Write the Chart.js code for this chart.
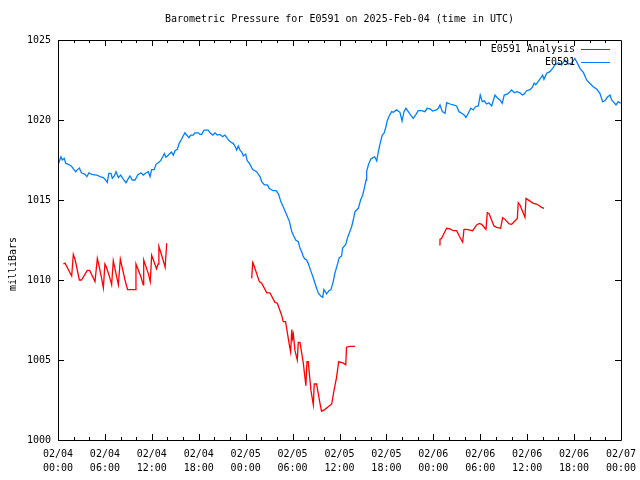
<!DOCTYPE html>
<html>
<head>
<meta charset="utf-8">
<script src="https://cdn.jsdelivr.net/npm/chart.js@4.4.1/dist/chart.umd.min.js"></script>
<style>
    html, body { margin: 0; padding: 0; background: #fff; }
    #wrap { width: 640px; height: 480px; }
</style>
</head>
<body>
<div id="wrap"><canvas id="pressureChart" width="640" height="480"></canvas></div>
<script>
// hours since 02/04 00:00 UTC, pressure in millibars
const obsHours = [0.0, 0.13, 0.38, 0.55, 0.8, 0.98, 1.32, 1.75, 1.96, 2.26, 2.5, 2.73, 3.0, 3.45, 3.7, 3.96, 4.3, 4.95, 5.37, 5.8,
    6.0, 6.3, 6.5, 6.78, 6.95, 7.2, 7.42, 7.72, 8.0, 8.35, 8.7, 9.0, 9.2, 9.5, 9.85, 10.2, 10.6, 10.9, 11.2, 11.55,
    11.77, 11.98, 12.3, 12.53, 12.83, 13.13, 13.4, 13.6, 13.8, 14.1, 14.5, 14.75, 14.96, 15.26, 15.5, 15.8, 16.0, 16.24, 16.45, 16.75,
    16.97, 17.3, 17.5, 17.94, 18.15, 18.37, 18.67, 19.2, 19.5, 19.8, 20.08, 20.37, 20.7, 21.06, 21.35, 21.65, 21.9, 22.2, 22.4, 22.63,
    22.85, 23.06, 23.27, 23.5, 23.7, 24.0, 24.2, 24.46, 24.9, 25.4, 25.83, 26.05, 26.4, 26.8, 27.0, 27.5, 27.9, 28.2, 28.5, 28.8,
    29.25, 29.6, 29.9, 30.1, 30.4, 30.73, 30.95, 31.16, 31.37, 31.6, 31.8, 32.0, 32.3, 32.57, 32.86, 33.07, 33.3, 33.6, 33.85, 34.0,
    34.36, 34.65, 34.9, 35.2, 35.4, 35.77, 35.97, 36.27, 36.4, 36.8, 37.0, 37.55, 37.76, 37.98, 38.4, 38.7, 38.96, 39.17, 39.4, 39.47,
    39.7, 40.0, 40.3, 40.5, 40.76, 40.96, 41.2, 41.47, 41.7, 41.94, 42.1, 42.37, 42.67, 42.88, 43.3, 43.73, 44.0, 44.25, 44.5, 44.8,
    45.1, 45.43, 45.78, 46.07, 46.5, 46.93, 47.2, 47.57, 47.9, 48.4, 48.64, 48.85, 49.15, 49.5, 49.7, 50.13, 50.55, 50.98, 51.28, 51.63,
    51.96, 52.17, 52.47, 52.8, 53.1, 53.4, 53.75, 54.0, 54.26, 54.5, 54.8, 55.1, 55.46, 55.88, 56.23, 56.52, 56.8, 57.07, 57.5, 57.8,
    58.0, 58.35, 58.65, 59.08, 59.38, 59.63, 59.93, 60.36, 60.65, 60.9, 61.1, 61.4, 61.7, 61.98, 62.15, 62.5, 62.9, 63.26, 63.55, 64.0,
    64.4, 64.83, 65.25, 65.7, 66.1, 66.33, 66.75, 67.2, 67.6, 68.0, 68.45, 68.9, 69.3, 69.65, 69.95, 70.24, 70.6, 70.8, 71.0, 71.36,
    71.65, 71.95];
const obsValues = [1017.5, 1017.36, 1017.7, 1017.5, 1017.6, 1017.3, 1017.23, 1017.1, 1016.94, 1016.77, 1016.9, 1017.0, 1016.7, 1016.6, 1016.46, 1016.7, 1016.6, 1016.56, 1016.46, 1016.4,
    1016.3, 1016.1, 1016.67, 1016.67, 1016.35, 1016.5, 1016.77, 1016.4, 1016.56, 1016.3, 1016.08, 1016.35, 1016.5, 1016.25, 1016.25, 1016.56, 1016.7, 1016.56, 1016.67, 1016.77,
    1016.46, 1016.9, 1016.9, 1017.23, 1017.33, 1017.46, 1017.7, 1017.9, 1017.67, 1017.8, 1018.0, 1017.8, 1018.08, 1018.17, 1018.54, 1018.8, 1019.0, 1019.2, 1019.06, 1018.9,
    1019.06, 1019.06, 1019.2, 1019.2, 1019.1, 1019.1, 1019.37, 1019.37, 1019.17, 1019.06, 1019.2, 1019.06, 1019.1, 1018.96, 1019.06, 1018.85, 1018.7, 1018.58, 1018.54, 1018.37,
    1018.12, 1018.37, 1018.12, 1018.0, 1017.75, 1017.87, 1017.46, 1017.3, 1016.9, 1016.77, 1016.46, 1016.15, 1015.94, 1015.94, 1015.73, 1015.58, 1015.58, 1015.37, 1014.9, 1014.58,
    1014.06, 1013.65, 1013.02, 1012.8, 1012.5, 1012.4, 1011.98, 1011.77, 1011.46, 1011.3, 1011.25, 1011.04, 1010.6, 1010.25, 1009.8, 1009.48, 1009.17, 1009.0, 1008.92, 1009.4,
    1009.13, 1009.33, 1009.4, 1009.9, 1010.4, 1011.04, 1011.4, 1011.5, 1012.0, 1012.23, 1012.6, 1013.33, 1013.75, 1014.27, 1014.48, 1015.0, 1015.3, 1015.73, 1016.25, 1016.77,
    1017.2, 1017.56, 1017.65, 1017.7, 1017.44, 1018.0, 1018.54, 1019.06, 1019.17, 1019.58, 1019.94, 1020.27, 1020.52, 1020.48, 1020.63, 1020.48, 1019.94, 1020.52, 1020.73, 1020.52,
    1020.3, 1020.1, 1020.35, 1020.58, 1020.58, 1020.52, 1020.73, 1020.7, 1020.56, 1020.63, 1020.73, 1020.94, 1020.52, 1020.42, 1021.08, 1021.0, 1020.94, 1020.88, 1020.52, 1020.42,
    1020.3, 1020.15, 1020.42, 1020.73, 1020.63, 1020.83, 1020.88, 1021.56, 1021.15, 1021.2, 1021.0, 1021.08, 1020.88, 1021.56, 1021.36, 1021.25, 1021.04, 1021.56, 1021.63, 1021.77,
    1021.88, 1021.7, 1021.77, 1021.7, 1021.56, 1021.63, 1021.83, 1021.9, 1022.04, 1022.3, 1022.2, 1022.4, 1022.6, 1022.8, 1022.54, 1022.92, 1023.02, 1023.23, 1023.44, 1023.58,
    1023.44, 1023.75, 1023.5, 1023.55, 1023.85, 1023.64, 1023.23, 1022.96, 1022.5, 1022.3, 1022.08, 1021.92, 1021.67, 1021.15, 1021.2, 1021.42, 1021.56, 1021.25, 1021.15, 1020.94,
    1021.15, 1021.04];

// analysis runs, null marks a gap between runs
const anaHours = [0.68, 0.9, 1.75, 1.96, 2.2, 2.73, 3.0, 3.75, 4.05, 4.73, 5.03, 5.2, 5.58, 5.8, 6.0, 6.2, 6.65, 6.86, 7.07, 7.72,
    7.97, 8.57, 8.9, 9.85, 9.97, 10.6, 10.9, 10.96, 11.55, 11.8, 11.98, 12.6, 12.8, 12.9, 13.26, 13.7, 13.9,
    19.0,
    24.77, 24.9, 25.0, 25.75, 26.05, 26.7, 27.1, 27.75, 28.05, 28.6, 28.8, 29.1, 29.6, 29.75, 29.9, 30.0, 30.1, 30.3, 30.6, 30.73,
    30.95, 31.37, 31.7, 31.84, 32.0, 32.35, 32.65, 32.77, 33.07, 33.5, 33.7, 34.1, 34.6, 35.0, 35.3, 35.6, 35.9, 36.5, 36.8, 36.9,
    37.3, 37.98,
    43.0,
    48.76, 48.85, 49.06, 49.7, 50.13, 50.55, 50.98, 51.4, 51.75, 51.92, 52.26, 53.03, 53.54, 53.87, 54.18, 54.73, 54.9, 55.15, 55.75, 56.1,
    56.6, 56.87, 57.16, 57.7, 58.02, 58.74, 58.86, 59.08, 59.72, 59.85, 60.27, 60.78, 61.2, 61.85, 62.15];
const anaValues = [1011.0, 1011.05, 1010.25, 1011.6, 1011.25, 1010.0, 1010.0, 1010.6, 1010.6, 1009.9, 1011.35, 1011.0, 1010.1, 1009.5, 1011.0, 1010.8, 1010.1, 1009.7, 1011.2, 1009.7,
    1011.3, 1010.0, 1009.4, 1009.4, 1011.0, 1010.2, 1009.7, 1011.25, 1010.4, 1009.9, 1011.55, 1010.7, 1011.0, 1012.1, 1011.55, 1010.8, 1012.3,
    null,
    1010.1, 1011.1, 1011.0, 1009.9, 1009.8, 1009.2, 1009.2, 1008.6, 1008.55, 1007.8, 1007.4, 1007.4, 1005.9, 1005.5, 1006.9, 1006.35, 1006.6, 1005.6, 1005.0, 1006.1,
    1006.1, 1004.8, 1003.4, 1004.9, 1004.9, 1003.1, 1002.2, 1003.5, 1003.5, 1002.3, 1001.8, 1001.9, 1002.1, 1002.25, 1003.1, 1003.85, 1004.9, 1004.8, 1004.7, 1005.8,
    1005.85, 1005.85,
    null,
    1012.19, 1012.54, 1012.6, 1013.23, 1013.19, 1013.08, 1013.08, 1012.67, 1012.36, 1013.17, 1013.17, 1013.08, 1013.44, 1013.54, 1013.48, 1013.17, 1014.21, 1014.13, 1013.38, 1013.29,
    1013.23, 1013.9, 1013.79, 1013.5, 1013.48, 1013.85, 1014.83, 1014.69, 1013.92, 1015.1, 1014.96, 1014.79, 1014.75, 1014.54, 1014.48];

const yTicks = [1000, 1005, 1010, 1015, 1020, 1025];
const dayLabels = ['02/04', '02/05', '02/06', '02/07'];

const FONT = '"DejaVu Sans Mono", "Liberation Mono", monospace';

function toPoints(xs, ys) {
    return xs.map(function(x, i) { return { x: x, y: ys[i] }; });
}

function timeLabel(h) {
    const day = dayLabels[Math.floor(h / 24)];
    const hr = h % 24;
    return [day, (hr < 10 ? '0' : '') + hr + ':00'];
}

// frame, inward ticks, title, y label and legend in gnuplot style
const gnuplotFrame = {
    id: 'gnuplotFrame',
    afterDraw: function(chart) {
        const ctx = chart.ctx;
        const a = chart.chartArea;
        const xs = chart.scales.x;
        const ys = chart.scales.y;
        ctx.save();
        ctx.strokeStyle = '#000';
        ctx.lineWidth = 1;
        ctx.beginPath();
        ctx.rect(Math.round(a.left) + 0.5, Math.round(a.top) + 0.5,
                 Math.round(a.right - a.left), Math.round(a.bottom - a.top));
        // x ticks every 2 hours, longer every 6
        for (let h = 2; h < 72; h += 2) {
            const px = Math.round(xs.getPixelForValue(h)) + 0.5;
            const len = (h % 6 === 0) ? 6 : 3;
            ctx.moveTo(px, a.bottom); ctx.lineTo(px, a.bottom - len);
            ctx.moveTo(px, a.top); ctx.lineTo(px, a.top + len);
        }
        yTicks.forEach(function(v) {
            const py = Math.round(ys.getPixelForValue(v)) + 0.5;
            ctx.moveTo(a.left, py); ctx.lineTo(a.left + 6, py);
            ctx.moveTo(a.right, py); ctx.lineTo(a.right - 6, py);
        });
        ctx.stroke();

        ctx.fillStyle = '#000';
        ctx.font = '10px ' + FONT;
        ctx.textAlign = 'center';
        ctx.textBaseline = 'middle';
        ctx.fillText('Barometric Pressure for E0591 on 2025-Feb-04 (time in UTC)', (a.left + a.right) / 2, 19);

        ctx.save();
        ctx.translate(13, 264);
        ctx.rotate(-Math.PI / 2);
        ctx.fillText('milliBars', 0, 0);
        ctx.restore();

        // legend
        chart.data.datasets.forEach(function(ds, i) {
            const ly = 49 + i * 13;
            ctx.textAlign = 'right';
            ctx.fillStyle = '#000';
            ctx.fillText(ds.label, 575, ly);
            ctx.strokeStyle = ds.borderColor;
            ctx.beginPath();
            ctx.moveTo(581, ly + 0.5);
            ctx.lineTo(610, ly + 0.5);
            ctx.stroke();
        });
        ctx.restore();
    }
};

const ctx = document.getElementById('pressureChart').getContext('2d');
const pressureChart = new Chart(ctx, {
    type: 'line',
    data: {
        datasets: [{
            label: 'E0591 Analysis',
            data: toPoints(anaHours, anaValues),
            borderColor: '#ff0000',
            borderWidth: 1.3,
            pointRadius: 0,
            tension: 0,
            spanGaps: false
        }, {
            label: 'E0591',
            data: toPoints(obsHours, obsValues),
            borderColor: '#0080ff',
            borderWidth: 1.3,
            pointRadius: 0,
            tension: 0
        }]
    },
    options: {
        responsive: false,
        animation: false,
        devicePixelRatio: 1,
        layout: { padding: { top: 40, right: 19, left: 0, bottom: 0 } },
        plugins: {
            legend: { display: false },
            title: { display: false },
            tooltip: { enabled: false }
        },
        scales: {
            x: {
                type: 'linear',
                min: 0,
                max: 72,
                grid: { display: false },
                border: { display: false },
                afterFit: function(s) { s.height = 40; },
                afterBuildTicks: function(s) {
                    s.ticks = [];
                    for (let h = 0; h <= 72; h += 6) s.ticks.push({ value: h });
                },
                ticks: {
                    autoSkip: false,
                    maxRotation: 0,
                    padding: -1,
                    color: '#000',
                    font: { family: FONT, size: 10, lineHeight: 1.4 },
                    callback: function(v) { return timeLabel(v); }
                }
            },
            y: {
                min: 1000,
                max: 1025,
                grid: { display: false },
                border: { display: false },
                afterFit: function(s) { s.width = 58; },
                afterBuildTicks: function(s) {
                    s.ticks = yTicks.map(function(v) { return { value: v }; });
                },
                ticks: {
                    padding: -1,
                    color: '#000',
                    font: { family: FONT, size: 10 },
                    callback: function(v) { return String(v); }
                }
            }
        }
    },
    plugins: [gnuplotFrame]
});
</script>
</body>
</html>
